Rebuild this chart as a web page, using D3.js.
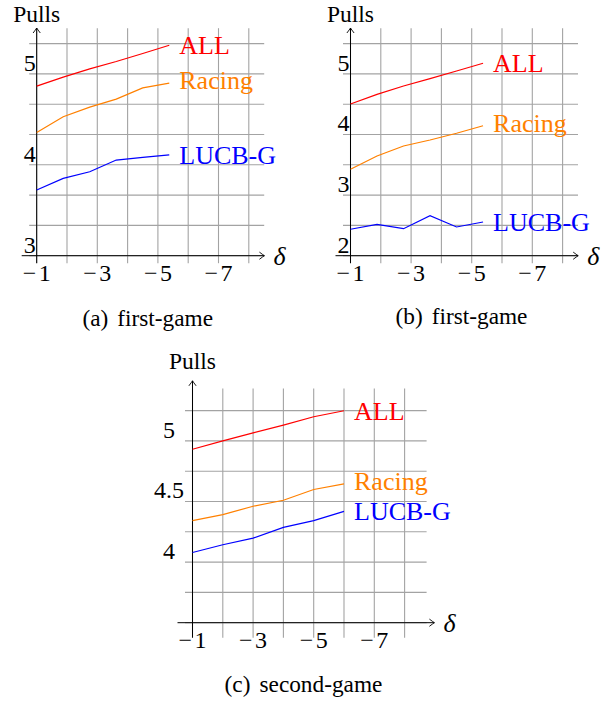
<!DOCTYPE html>
<html>
<head>
<meta charset="utf-8">
<script src="https://cdn.jsdelivr.net/npm/d3@7"></script>
<style>
  html, body { margin: 0; padding: 0; background: #fff; }
</style>
</head>
<body>
<svg id="chart" width="610" height="703"></svg>
<script>
// ---------------- data ----------------
const seriesNames = ["ALL", "Racing", "LUCB-G"];
const seriesColors = ["#ff0000", "#ff8000", "#0000ff"];

const deltaFirst = [-1, -1.875, -2.75, -3.625, -4.5, -5.375];
const deltaSecond = [-1, -2, -3, -4, -5, -6];

const aAll    = [4.865, 4.964, 5.055, 5.136, 5.224, 5.315];
const aRacing = [4.356, 4.528, 4.634, 4.722, 4.846, 4.898];
const aLucb   = [3.722, 3.850, 3.923, 4.052, 4.081, 4.110];

const bAll    = [4.503, 4.663, 4.800, 4.921, 5.048, 5.175];
const bRacing = [3.426, 3.645, 3.810, 3.909, 4.020, 4.145];
const bLucb   = [2.436, 2.518, 2.446, 2.660, 2.474, 2.556];

const cAll    = [4.931, 5.000, 5.066, 5.130, 5.199, 5.249];
const cRacing = [4.342, 4.392, 4.461, 4.510, 4.599, 4.646];
const cLucb   = [4.079, 4.143, 4.198, 4.286, 4.342, 4.419];

const xTickValues = [-1, -3, -5, -7];
const xGridValues = [-1, -2, -3, -4, -5, -6, -7, -8];
const aYTicks = [3, 4, 5];
const bYTicks = [2, 3, 4, 5];
const cYTicks = [4, 4.5, 5];
const aYGrid = [3, 3 + 1/3, 3 + 2/3, 4, 4 + 1/3, 4 + 2/3, 5, 5 + 1/3];
const bYGrid = [2, 2.5, 3, 3.5, 4, 4.5, 5, 5.5];
const cYGrid = [3.5, 3.75, 4, 4.25, 4.5, 4.75, 5, 5.25];

const captions = ["(a)", "(b)", "(c)"];
const captionTexts = ["first-game", "first-game", "second-game"];

// ---------------- layout ----------------
const FONT = "'Liberation Serif', 'Times New Roman', Times, serif";
const CELL = 30.3;
const panels = [
  { ox: 36.7, oy: 255.7, xs: deltaFirst, ys: [aAll, aRacing, aLucb], yDom: [3, 3 + 7/3],
    yTicks: aYTicks, yGrid: aYGrid, yLabelMode: "end", ext: 15.4, axExt: 15.6, extB: 7.5,
    pullsGap: 6.3, cap: 0, capY: 325.5 },
  { ox: 350.5, oy: 255.7, xs: deltaFirst, ys: [bAll, bRacing, bLucb], yDom: [2, 5.5],
    yTicks: bYTicks, yGrid: bYGrid, yLabelMode: "end", ext: 15.4, axExt: 15.6, extB: 7.5,
    pullsGap: 6.3, cap: 1, capY: 323.5 },
  { ox: 192.5, oy: 622.7, xs: deltaSecond, ys: [cAll, cRacing, cLucb], yDom: [3.5, 5.25],
    yTicks: cYTicks, yGrid: cYGrid, yLabelMode: "middle", ext: 22, axExt: 29.8, extB: 15,
    pullsGap: 11.5, cap: 2, capY: 691.5 }
];

const svg = d3.select("#chart");

function arrowHead(g, x, y, dir) {
  const p = d3.path();
  if (dir === "right") {
    p.moveTo(x - 5, y - 3.6);
    p.quadraticCurveTo(x - 1.6, y - 1.0, x, y);
    p.quadraticCurveTo(x - 1.6, y + 1.0, x - 5, y + 3.6);
  } else {
    p.moveTo(x - 3.6, y + 5);
    p.quadraticCurveTo(x - 1.0, y + 1.6, x, y);
    p.quadraticCurveTo(x + 1.0, y + 1.6, x + 3.6, y + 5);
  }
  g.append("path").attr("d", p.toString()).attr("fill", "none")
    .attr("stroke", "#000").attr("stroke-width", 0.9);
}

panels.forEach(P => {
  const g = svg.append("g");
  const W = 7 * CELL, H = 7 * CELL;
  const x = d3.scaleLinear().domain([-1, -8]).range([P.ox, P.ox + W]);
  const y = d3.scaleLinear().domain(P.yDom).range([P.oy, P.oy - H]);

  const gridLeft = P.ox - 7.5, gridRight = P.ox + W + P.ext;
  const gridTop = P.oy - H - P.ext, gridBottom = P.oy + P.extB;
  const axRight = P.ox + W + P.axExt, axTop = P.oy - H - P.axExt;

  // grid
  g.append("g").selectAll("line").data(xGridValues).join("line")
    .attr("x1", d => x(d)).attr("x2", d => x(d))
    .attr("y1", gridBottom).attr("y2", gridTop)
    .attr("stroke", "#a3a3a3").attr("stroke-width", 1.1);
  g.append("g").selectAll("line").data(P.yGrid).join("line")
    .attr("x1", gridLeft).attr("x2", gridRight)
    .attr("y1", d => y(d)).attr("y2", d => y(d))
    .attr("stroke", "#a3a3a3").attr("stroke-width", 1.1);

  // axes
  g.append("line").attr("x1", P.ox - 15).attr("x2", axRight).attr("y1", P.oy).attr("y2", P.oy)
    .attr("stroke", "#000").attr("stroke-width", 1);
  arrowHead(g, axRight, P.oy, "right");
  g.append("line").attr("x1", P.ox).attr("x2", P.ox).attr("y1", gridBottom).attr("y2", axTop)
    .attr("stroke", "#000").attr("stroke-width", 1);
  arrowHead(g, P.ox, axTop, "up");

  // x tick labels
  const xt = g.append("g").selectAll("text").data(xTickValues).join("text")
    .attr("x", d => x(d)).attr("y", P.oy + 25.5)
    .attr("text-anchor", "middle").attr("font-size", 24).attr("font-family", FONT);
  xt.append("tspan").text("\u2212");
  xt.append("tspan").attr("dx", 2.5).text(d => Math.abs(d));

  // y tick labels
  g.append("g").selectAll("text").data(P.yTicks).join("text")
    .attr("x", P.yLabelMode === "end" ? P.ox - 1 : P.ox - 23.5)
    .attr("y", d => y(d) - 3.2)
    .attr("text-anchor", P.yLabelMode).attr("font-size", 24).attr("font-family", FONT)
    .text(d => d3.format("~g")(d));

  // axis labels
  g.append("text").attr("x", P.ox).attr("y", axTop - P.pullsGap)
    .attr("text-anchor", "middle").attr("font-size", 23.5).attr("font-family", FONT).text("Pulls");
  g.append("text").attr("x", axRight + 9).attr("y", P.oy + 9)
    .attr("font-size", 26).attr("font-style", "italic").attr("font-family", FONT).text("δ");

  // series
  const line = d3.line().x(d => x(d[0])).y(d => y(d[1]));
  P.ys.forEach((vals, i) => {
    const pts = vals.map((v, j) => [P.xs[j], v]);
    g.append("path").attr("d", line(pts)).attr("fill", "none")
      .attr("stroke", seriesColors[i]).attr("stroke-width", 1.2);
    const last = pts[pts.length - 1];
    const hasDesc = /[gjpqy]/.test(seriesNames[i]);
    g.append("text").attr("x", x(last[0]) + 10).attr("y", y(last[1]) + (hasDesc ? 6 : 8.8))
      .attr("font-size", 26).attr("font-family", FONT)
      .attr("fill", seriesColors[i]).text(seriesNames[i]);
  });

  // caption
  const cap = g.append("text").attr("x", P.ox + 111).attr("y", P.capY)
    .attr("text-anchor", "middle").attr("font-size", 23.3).attr("font-family", FONT);
  cap.append("tspan").text(captions[P.cap]);
  cap.append("tspan").attr("dx", 9).text(captionTexts[P.cap]);
});
</script>
</body>
</html>
